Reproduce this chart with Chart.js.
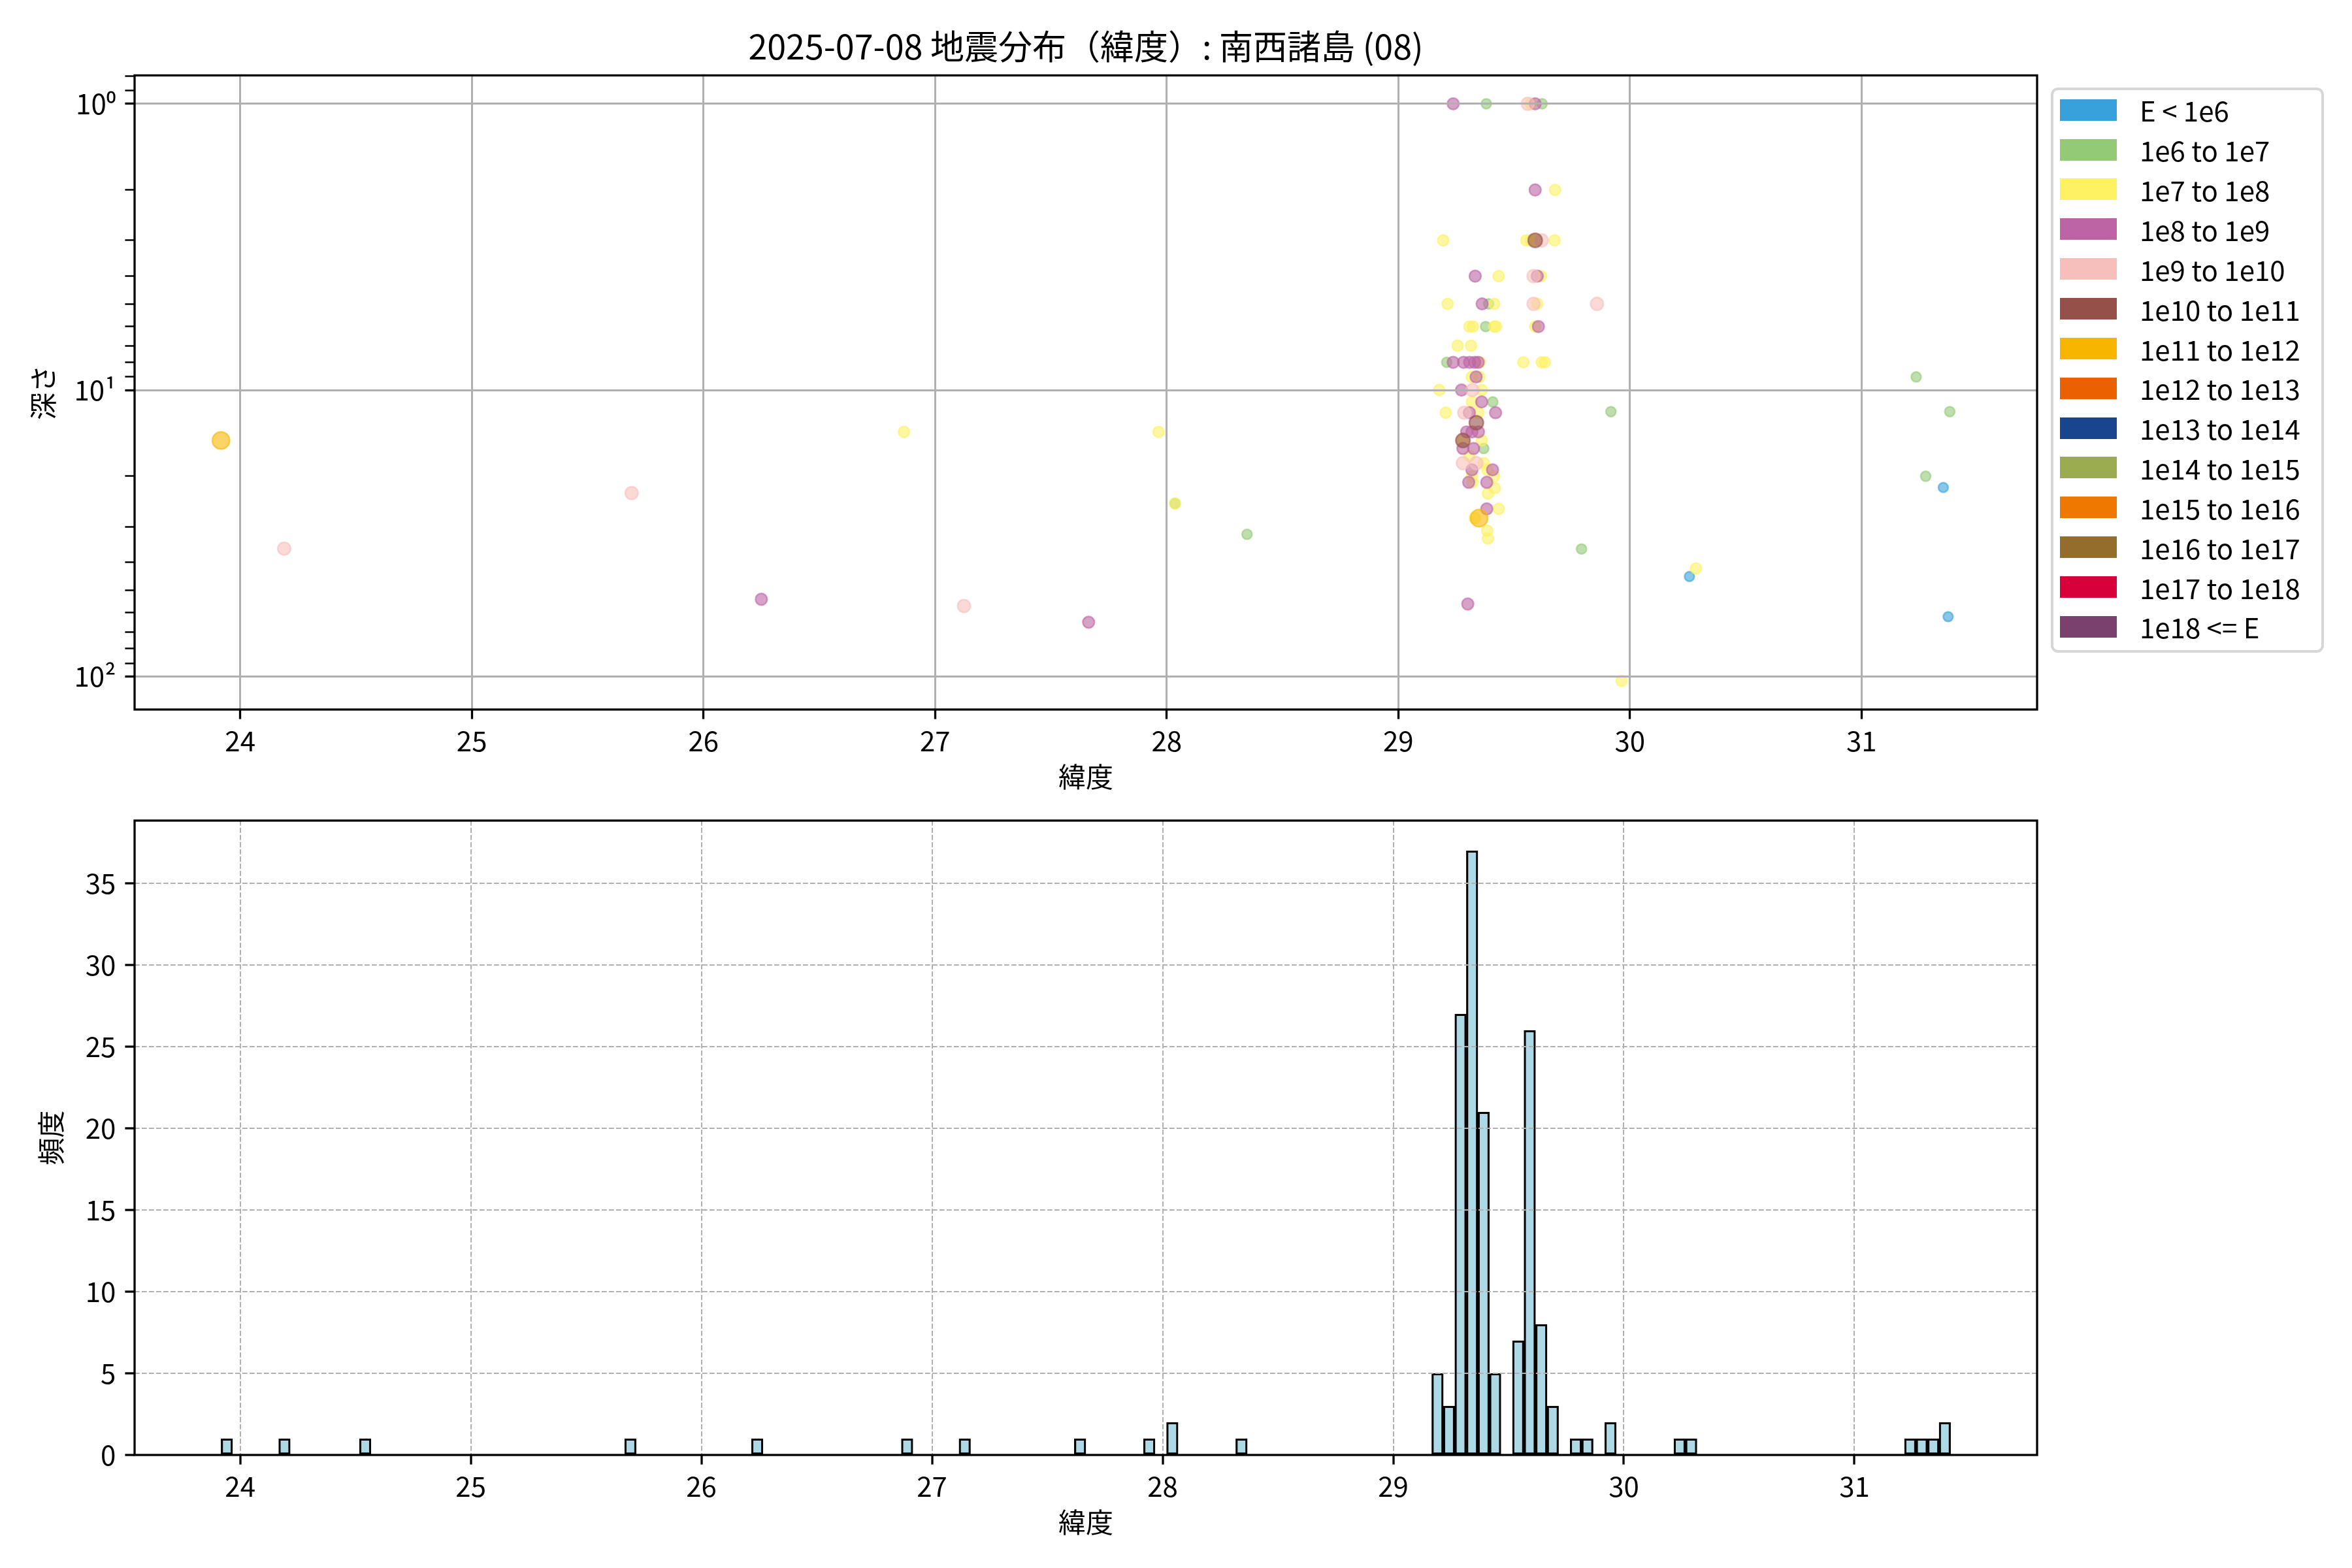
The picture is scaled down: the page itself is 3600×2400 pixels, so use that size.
<!DOCTYPE html>
<html>
<head>
<meta charset="utf-8">
<script src="https://cdn.jsdelivr.net/npm/chart.js@4.4.1/dist/chart.umd.min.js"></script>
<style>
  html, body { margin: 0; padding: 0; background: #fff; }
  #wrap { position: relative; width: 3600px; height: 2400px; font-family: "Noto Sans CJK JP", sans-serif; }
  #scatter { position: absolute; left: 0; top: 0; }
  #hist { position: absolute; left: 0; top: 1200px; }
  #legend { position: absolute; left: 3139px; top: 134px; width: 418px; height: 865px;
            box-sizing: border-box; border: 4px solid #d6d6d6; border-radius: 11px; background: #fff; }
  .swatch { position: absolute; left: 10px; width: 87px; height: 33px; }
  .label { position: absolute; left: 132px; height: 50px; line-height: 50px; font-size: 42px; color: #000; white-space: nowrap; }
</style>
</head>
<body>
<div id="wrap">
  <canvas id="scatter" width="3600" height="1240"></canvas>
  <canvas id="hist" width="3600" height="1200"></canvas>
  <div id="legend"></div>
</div>
<script>
const FONT = '"Noto Sans CJK JP", "Noto Sans", sans-serif';
const TITLE = '2025-07-08 地震分布（緯度）: 南西諸島 (08)';

// energy classes (legend)
const energyLabels = ['E < 1e6', '1e6 to 1e7', '1e7 to 1e8', '1e8 to 1e9', '1e9 to 1e10', '1e10 to 1e11',
  '1e11 to 1e12', '1e12 to 1e13', '1e13 to 1e14', '1e14 to 1e15', '1e15 to 1e16', '1e16 to 1e17',
  '1e17 to 1e18', '1e18 <= E'];
const energyColors = ['#38a1db', '#93ca76', '#fef263', '#bc64a4', '#f6bfbc', '#95504a', '#f8b500',
  '#eb6101', '#19448e', '#9aab50', '#ee7800', '#946d2d', '#d7003a', '#7a416f'];
const markerRadius = [7.4, 7.6, 8.4, 8.9, 9.8, 10.8, 13.2, 14, 14.5, 15, 15.5, 16, 16.5, 17];

// axis ticks
const xTicks = [24, 25, 26, 27, 28, 29, 30, 31];
const depthTicks = [0.8, 0.9, 1, 2, 3, 4, 5, 6, 7, 8, 9, 10, 20, 30, 40, 50, 60, 70, 80, 90, 100];
const depthLabels = { 1: '10⁰', 10: '10¹', 100: '10²' };
const countTicks = [0, 5, 10, 15, 20, 25, 30, 35];

// scatter points: latitude / depth per energy class
const latLt6 = [30.257, 31.353, 31.374];
const depLt6 = [44.8, 21.9, 61.9];

const lat6to7 = [28.036, 28.347, 29.209, 29.369, 29.377, 29.380, 29.390, 29.408, 29.621, 29.791, 29.918, 31.236, 31.277, 31.381];
const dep6to7 = [24.9, 31.9, 8.0, 16.0, 6.0, 1.0, 5.0, 11.0, 1.0, 35.9, 11.9, 9.0, 20.0, 11.9];

const lat7to8 = [26.866, 27.965, 28.036, 30.285, 29.964, 29.572, 29.677, 29.194, 29.553, 29.572, 29.591, 29.675,
  29.433, 29.617, 29.213, 29.414, 29.600, 29.307, 29.323, 29.414, 29.422, 29.591, 29.256, 29.314, 29.352,
  29.540, 29.619, 29.633, 29.317, 29.350, 29.177, 29.360, 29.318, 29.205, 29.346, 29.279, 29.360, 29.307,
  29.369, 29.384, 29.318, 29.414, 29.320, 29.417, 29.387, 29.433, 29.330, 29.384, 29.387];
const dep7to8 = [14.0, 14.0, 24.9, 42.0, 103.7, 1.0, 2.0, 3.0, 3.0, 3.0, 3.0, 3.0,
  4.0, 4.0, 5.0, 5.0, 5.0, 6.0, 6.0, 6.0, 6.0, 6.0, 7.0, 7.0, 8.0,
  8.0, 8.0, 8.0, 9.0, 9.0, 10.0, 10.0, 11.0, 12.0, 12.0, 15.0, 15.0, 17.0,
  18.0, 19.0, 20.0, 20.0, 21.0, 22.0, 23.0, 26.0, 28.0, 31.0, 33.0];

const lat8to9 = [26.250, 27.663, 29.300, 29.237, 29.591, 29.591, 29.332, 29.600, 29.362, 29.605, 29.237, 29.282,
  29.308, 29.330, 29.345, 29.336, 29.273, 29.360, 29.307, 29.420, 29.295, 29.318, 29.346, 29.279,
  29.325, 29.318, 29.407, 29.304, 29.382, 29.382];
const dep8to9 = [53.8, 64.7, 55.9, 1.0, 1.0, 2.0, 4.0, 4.0, 5.0, 6.0, 8.0, 8.0,
  8.0, 8.0, 8.0, 9.0, 10.0, 11.0, 12.0, 12.0, 14.0, 14.0, 14.0, 16.0,
  16.0, 19.0, 19.0, 21.0, 21.0, 26.0];

const lat9to10 = [24.190, 25.690, 27.125, 29.559, 29.619, 29.584, 29.584, 29.858, 29.320, 29.285, 29.279, 29.337];
const dep9to10 = [35.8, 22.9, 56.8, 1.0, 3.0, 4.0, 5.0, 5.0, 10.0, 12.0, 18.0, 18.0];

const lat10to11 = [29.591, 29.337, 29.279];
const dep10to11 = [3.0, 13.0, 15.0];

const lat11to12 = [23.917, 29.349];
const dep11to12 = [15.0, 28.0];

// histogram: 150 bins of width 0.05 starting at the smallest latitude
const HIST_START = 23.917;
const BIN_WIDTH = 0.05;
const histBins = [0, 5, 12, 35, 46, 59, 64, 74, 80, 82, 88,
  105, 106, 107, 108, 109, 110, 112, 113, 114, 115, 117, 118, 120, 126, 127, 146, 147, 148, 149];
const histCounts = [1, 1, 1, 1, 1, 1, 1, 1, 1, 2, 1,
  5, 3, 27, 37, 21, 5, 7, 26, 8, 3, 1, 1, 2, 1, 1, 1, 1, 1, 2];

// axis limits
const SCATTER_X = [23.544, 31.758];
const DEPTH_RANGE = [0.796, 130.6];
const HIST_X = [23.542, 31.792];
const COUNT_MAX = 38.85;

Chart.defaults.font.family = FONT;
Chart.defaults.color = '#000';

function rgba(hex, a) {
  const n = parseInt(hex.slice(1), 16);
  return `rgba(${n >> 16}, ${(n >> 8) & 255}, ${n & 255}, ${a})`;
}

const framePlugin = {
  id: 'frame',
  afterDraw(chart) {
    const { ctx, chartArea: a } = chart;
    ctx.save();
    ctx.strokeStyle = '#000';
    ctx.lineWidth = 3.3;
    ctx.strokeRect(a.left, a.top, a.right - a.left, a.bottom - a.top);
    ctx.restore();
  }
};

const classLat = [latLt6, lat6to7, lat7to8, lat8to9, lat9to10, lat10to11, lat11to12];
const classDep = [depLt6, dep6to7, dep7to8, dep8to9, dep9to10, dep10to11, dep11to12];

const scatterSets = energyLabels.map((label, i) => {
  const lats = classLat[i] || [];
  const deps = classDep[i] || [];
  return {
    label,
    data: lats.map((x, j) => ({ x, y: deps[j] })),
    pointRadius: markerRadius[i],
    pointHoverRadius: markerRadius[i],
    pointBackgroundColor: rgba(energyColors[i], 0.6),
    pointBorderColor: rgba(energyColors[i], 0.6),
    pointBorderWidth: 2.5,
    order: energyLabels.length - i
  };
});

const axisTitle = (text, pad) => ({
  display: true, text, font: { size: 42, family: FONT }, color: '#000', padding: pad
});
const tickFont = { size: 42 };

new Chart(document.getElementById('scatter'), {
  type: 'scatter',
  data: { datasets: scatterSets },
  options: {
    responsive: false,
    animation: false,
    devicePixelRatio: 1,
    events: [],
    layout: { padding: { top: 0, left: 0, right: 482, bottom: 24 } },
    plugins: {
      legend: { display: false },
      tooltip: { enabled: false },
      title: {
        display: true, text: TITLE, fullSize: false, color: '#000',
        font: { family: FONT, size: 52, weight: 'normal' },
        padding: { top: 40, bottom: 13 }
      }
    },
    scales: {
      x: {
        type: 'linear',
        min: SCATTER_X[0], max: SCATTER_X[1],
        afterFit: s => { s.height = 130; },
        afterBuildTicks: s => { s.ticks = xTicks.map(v => ({ value: v })); },
        ticks: { font: tickFont, padding: 8, autoSkip: false, maxRotation: 0, callback: v => String(v) },
        grid: { color: '#b0b0b0', lineWidth: 3, tickColor: '#000', tickLength: 14.6, tickWidth: 3.3, z: 1 },
        border: { display: false },
        title: axisTitle('緯度', { top: 0, bottom: 2 })
      },
      y: {
        type: 'logarithmic',
        reverse: true,
        min: DEPTH_RANGE[0], max: DEPTH_RANGE[1],
        afterFit: s => { s.width = 206; },
        afterBuildTicks: s => { s.ticks = depthTicks.map(v => ({ value: v })); },
        ticks: { font: tickFont, padding: 14, autoSkip: false, callback: v => depthLabels[v] || '' },
        grid: {
          color: c => depthLabels[c.tick && c.tick.value] ? '#b0b0b0' : 'rgba(0,0,0,0)',
          lineWidth: 3,
          tickColor: '#000',
          tickLength: 14.6,
          tickWidth: c => depthLabels[c.tick && c.tick.value] ? 3.3 : 2.5,
          z: 1
        },
        border: { display: false },
        title: axisTitle('深さ', { top: 41, bottom: 0 })
      }
    }
  },
  plugins: [framePlugin]
});

const histData = histBins.map((k, i) => ({ x: HIST_START + (k + 0.5) * BIN_WIDTH, y: histCounts[i] }));

new Chart(document.getElementById('hist'), {
  type: 'bar',
  data: {
    datasets: [{
      data: histData,
      backgroundColor: '#add8e6',
      borderColor: '#000',
      borderWidth: 3.2,
      borderSkipped: false,
      barPercentage: 1,
      categoryPercentage: 1
    }]
  },
  options: {
    responsive: false,
    animation: false,
    devicePixelRatio: 1,
    events: [],
    layout: { padding: { top: 56, left: 0, right: 482, bottom: 43 } },
    plugins: { legend: { display: false }, tooltip: { enabled: false } },
    scales: {
      x: {
        type: 'linear',
        offset: false,
        min: HIST_X[0], max: HIST_X[1],
        afterFit: s => { s.height = 130; },
        afterBuildTicks: s => { s.ticks = xTicks.map(v => ({ value: v })); },
        ticks: { font: tickFont, padding: 8, autoSkip: false, maxRotation: 0, callback: v => String(v) },
        grid: { offset: false, color: '#b0b0b0', lineWidth: 2, tickColor: '#000', tickLength: 14.6, tickWidth: 3.3, tickBorderDash: [], z: 1 },
        border: { display: false, dash: [7.7, 3.3] },
        title: axisTitle('緯度', { top: 0, bottom: 2 })
      },
      y: {
        min: 0, max: COUNT_MAX,
        afterFit: s => { s.width = 206; s.paddingTop = 0; s.paddingBottom = 0; },
        afterBuildTicks: s => { s.ticks = countTicks.map(v => ({ value: v })); },
        ticks: { font: tickFont, padding: 14, autoSkip: false, callback: v => String(v) },
        grid: { color: '#b0b0b0', lineWidth: 2, tickColor: '#000', tickLength: 14.6, tickWidth: 3.3, tickBorderDash: [], z: 1 },
        border: { display: false, dash: [7.7, 3.3] },
        title: axisTitle('頻度', { top: 53, bottom: 0 })
      }
    }
  },
  plugins: [framePlugin]
});

// legend box (outside the upper axes)
const legend = document.getElementById('legend');
energyLabels.forEach((label, i) => {
  const cy = 30.4 + i * 60.85;
  const sw = document.createElement('div');
  sw.className = 'swatch';
  sw.style.top = (cy - 16.7) + 'px';
  sw.style.background = energyColors[i];
  legend.appendChild(sw);
  const tx = document.createElement('div');
  tx.className = 'label';
  tx.style.top = (cy - 25) + 'px';
  tx.textContent = label;
  legend.appendChild(tx);
});
</script>
</body>
</html>
